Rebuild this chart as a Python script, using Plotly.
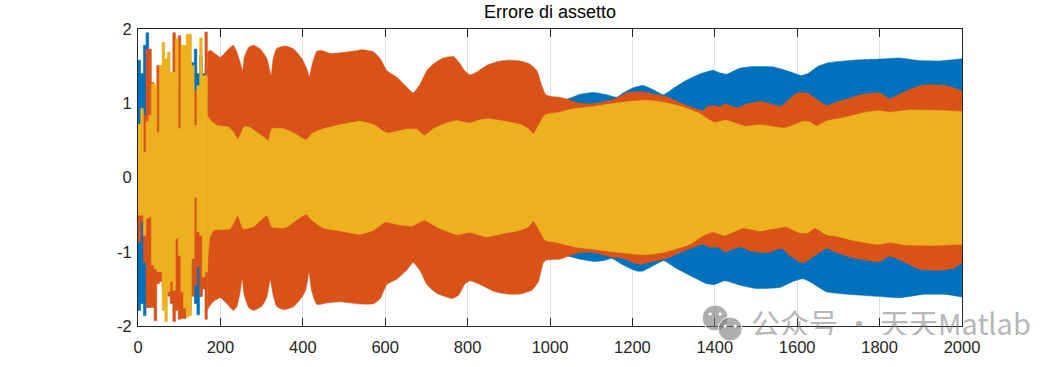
import plotly.graph_objects as go

TITLE = "Errore di assetto"
WATERMARK = "公众号 · 天天Matlab"
X_TICKS = [0, 200, 400, 600, 800, 1000, 1200, 1400, 1600, 1800, 2000]
Y_TICKS = [-2, -1, 0, 1, 2]
Y_LABELS = ["-2", "-1", "0", "1", "2"]
BLUE, ORANGE, YELLOW = "#0072BD", "#D95319", "#EDB120"

# Early, wildly oscillating stretch: step columns (left edge of each column)
early_x = [0, 6.5, 13, 19.5, 26, 32.5, 39, 45.5, 52, 58.5, 65, 71.5, 78, 84.5, 91, 97.5, 104, 110.5, 117, 123.5, 130, 136.5, 143, 149.5, 156, 162.5, 169]
early_blue_up = [1.58, 1.40, 1.78, 1.95, 1.2, 1.0, 1.0, 1.0, 1.1, 1.2, 1.2, 1.2, 1.2, 1.2, 1.1, 1.2, 1.2, 1.2, 1.2, 1.2, 1.55, 1.73, 1.4, 1.64, 1.4, 1.45, 1.45]
early_blue_lo = [-1.79, -1.70, -1.86, -1.75, -1.3, -1.2, -1.2, -1.2, -1.2, -1.3, -1.3, -1.3, -1.3, -1.3, -1.3, -1.3, -1.4, -1.4, -1.4, -1.4, -1.55, -1.7, -1.85, -1.6, -1.2, -1.3, -1.3]
early_orange_up = [0.25, 0.72, 0.84, 1.73, 1.73, 1.28, 1.15, 1.51, 1.3, 1.3, 1.2, 1.3, 1.4, 1.95, 1.0, 1.91, 1.75, 1.2, 1.2, 1.0, 0.9, 1.17, 1.1, 1.2, 1.3, 1.96, 1.96]
early_orange_lo = [-0.87, -0.6, -1.14, -1.75, -1.75, -1.75, -1.93, -1.43, -1.4, -1.5, -1.5, -1.6, -1.7, -1.94, -1.79, -1.91, -1.9, -1.9, -1.7, -1.78, -1.6, -1.45, -1.2, -1.6, -1.5, -1.91, -1.91]
early_yellow_up = [0.72, 0.93, 0.34, 0.75, 0.84, 1.26, 1.26, 0.61, 1.51, 1.82, 1.60, 1.69, 1.42, 1.42, 1.87, 0.66, 1.78, 1.78, 1.93, 1.93, 1.51, 0.70, 1.24, 1.88, 1.37, 1.37, 1.37]
early_yellow_lo = [-0.51, -0.51, -0.78, -0.55, -0.53, -1.18, -1.23, -1.27, -1.27, -1.79, -1.94, -1.54, -1.40, -1.52, -0.82, -1.05, -1.54, -1.76, -1.88, -1.86, -1.09, -0.27, -0.73, -0.78, -1.34, -1.27, -1.27]

# Later stretch: envelopes of the oscillation
orange_up_x = [168, 176, 200, 216, 231, 240, 248, 254, 258, 269, 281, 297, 313, 323, 328, 337, 358, 378, 398, 410, 416, 422, 434, 446, 467, 507, 547, 572, 588, 604, 628, 652, 668, 685, 701, 717, 741, 766, 782, 794, 806, 822, 846, 871, 899, 927, 951, 968, 980, 990, 1004, 1024, 1044, 1065, 1097, 1121, 1154, 1170, 1186, 1210, 1234, 1259, 1287, 1323, 1372, 1380, 1400, 1412, 1424, 1456, 1477, 1513, 1561, 1582, 1602, 1622, 1646, 1671, 1695, 1735, 1759, 1800, 1824, 1848, 1873, 1905, 1937, 1969, 2000]
orange_up = [1.69, 1.71, 1.62, 1.71, 1.78, 1.69, 1.55, 1.44, 1.62, 1.755, 1.78, 1.73, 1.60, 1.38, 1.60, 1.74, 1.77, 1.73, 1.60, 1.46, 1.36, 1.51, 1.70, 1.71, 1.67, 1.69, 1.72, 1.69, 1.60, 1.44, 1.35, 1.22, 1.14, 1.26, 1.44, 1.53, 1.61, 1.63, 1.53, 1.43, 1.38, 1.42, 1.51, 1.56, 1.58, 1.57, 1.53, 1.44, 1.24, 1.115, 1.09, 1.08, 1.05, 1.01, 0.99, 1.01, 1.05, 1.09, 1.14, 1.155, 1.146, 1.115, 1.08, 0.99, 0.90, 0.95, 0.97, 0.95, 0.99, 0.94, 0.99, 1.025, 0.96, 1.06, 1.14, 1.14, 1.06, 0.97, 1.015, 1.08, 1.12, 1.14, 1.06, 1.12, 1.185, 1.245, 1.25, 1.23, 1.16]
orange_lo_x = [168, 174, 184, 200, 216, 231, 240, 248, 253, 258, 269, 281, 301, 313, 321, 328, 337, 354, 378, 398, 408, 415, 422, 434, 459, 491, 539, 572, 588, 604, 628, 652, 668, 685, 701, 725, 762, 778, 794, 806, 826, 867, 895, 927, 956, 972, 984, 992, 1024, 1044, 1073, 1105, 1150, 1178, 1202, 1218, 1250, 1283, 1323, 1372, 1388, 1408, 1424, 1461, 1493, 1529, 1562, 1582, 1614, 1638, 1671, 1695, 1727, 1768, 1800, 1824, 1857, 1897, 1945, 1978, 2000]
orange_lo = [-1.79, -1.73, -1.665, -1.62, -1.70, -1.79, -1.74, -1.54, -1.36, -1.585, -1.755, -1.79, -1.73, -1.61, -1.38, -1.585, -1.74, -1.78, -1.74, -1.61, -1.50, -1.28, -1.54, -1.71, -1.69, -1.675, -1.705, -1.70, -1.63, -1.44, -1.37, -1.25, -1.145, -1.26, -1.44, -1.56, -1.63, -1.585, -1.43, -1.39, -1.43, -1.54, -1.57, -1.57, -1.52, -1.40, -1.145, -1.11, -1.10, -1.06, -1.01, -1.01, -1.07, -1.09, -1.145, -1.17, -1.13, -1.09, -0.995, -0.90, -0.94, -0.94, -1.0, -0.935, -1.0, -1.01, -0.955, -1.05, -1.15, -1.07, -0.955, -1.01, -1.07, -1.115, -1.135, -1.06, -1.13, -1.235, -1.25, -1.225, -1.15]

blue_up_x = [168, 668, 990, 1044, 1073, 1105, 1133, 1162, 1178, 1202, 1226, 1250, 1275, 1299, 1331, 1364, 1396, 1412, 1428, 1460, 1493, 1541, 1574, 1610, 1626, 1650, 1675, 1735, 1800, 1848, 1897, 1945, 2000]
blue_up = [1.1, 1.05, 1.0, 1.06, 1.12, 1.145, 1.12, 1.08, 1.14, 1.21, 1.24, 1.185, 1.115, 1.2, 1.31, 1.395, 1.445, 1.41, 1.39, 1.47, 1.495, 1.49, 1.44, 1.375, 1.40, 1.495, 1.545, 1.58, 1.595, 1.61, 1.575, 1.57, 1.60]
blue_lo_x = [168, 668, 990, 1044, 1073, 1105, 1129, 1150, 1178, 1210, 1226, 1250, 1276, 1307, 1347, 1380, 1400, 1424, 1461, 1501, 1558, 1590, 1614, 1634, 1671, 1727, 1792, 1848, 1905, 1961, 2000]
blue_lo = [-1.1, -1.05, -1.0, -1.06, -1.10, -1.13, -1.12, -1.09, -1.18, -1.26, -1.26, -1.19, -1.12, -1.225, -1.34, -1.43, -1.44, -1.39, -1.45, -1.495, -1.48, -1.40, -1.365, -1.415, -1.54, -1.575, -1.60, -1.62, -1.575, -1.575, -1.61]

yellow_up_x = [168, 176, 192, 220, 232, 242, 248, 257, 269, 289, 305, 316, 325, 354, 378, 408, 422, 450, 491, 539, 572, 604, 652, 677, 695, 717, 750, 774, 806, 826, 850, 887, 927, 947, 960, 972, 988, 1024, 1056, 1105, 1154, 1202, 1234, 1275, 1323, 1364, 1388, 1400, 1412, 1428, 1473, 1509, 1570, 1614, 1630, 1646, 1671, 1711, 1759, 1796, 1824, 1873, 1929, 2000]
yellow_up = [0.835, 0.77, 0.70, 0.68, 0.61, 0.515, 0.57, 0.68, 0.68, 0.61, 0.545, 0.495, 0.657, 0.657, 0.60, 0.505, 0.59, 0.657, 0.71, 0.756, 0.71, 0.60, 0.65, 0.65, 0.567, 0.657, 0.738, 0.765, 0.733, 0.77, 0.79, 0.76, 0.716, 0.657, 0.59, 0.70, 0.845, 0.88, 0.925, 0.957, 0.998, 1.03, 1.04, 1.015, 0.95, 0.86, 0.77, 0.74, 0.755, 0.77, 0.69, 0.71, 0.666, 0.755, 0.75, 0.69, 0.76, 0.805, 0.87, 0.90, 0.88, 0.91, 0.905, 0.89]
yellow_lo_x = [168, 174, 184, 224, 242, 255, 281, 313, 325, 358, 378, 408, 422, 450, 491, 539, 572, 600, 628, 665, 695, 725, 774, 806, 846, 887, 927, 947, 960, 972, 988, 1016, 1065, 1105, 1154, 1202, 1234, 1283, 1339, 1372, 1396, 1424, 1469, 1509, 1574, 1606, 1626, 1642, 1671, 1695, 1743, 1796, 1824, 1865, 1921, 2000]
yellow_lo = [-1.27, -0.82, -0.71, -0.69, -0.51, -0.69, -0.66, -0.51, -0.665, -0.675, -0.60, -0.495, -0.575, -0.68, -0.72, -0.765, -0.71, -0.60, -0.63, -0.655, -0.575, -0.665, -0.77, -0.74, -0.80, -0.755, -0.71, -0.665, -0.59, -0.69, -0.845, -0.875, -0.94, -0.965, -1.0, -1.03, -1.04, -1.0, -0.90, -0.78, -0.735, -0.78, -0.68, -0.72, -0.665, -0.745, -0.745, -0.68, -0.77, -0.79, -0.855, -0.90, -0.875, -0.91, -0.915, -0.90]

W, H = 1063, 367
L, R, T, B = 137.5, 962.0, 28.5, 326.0


def px(x):
    return (x - L) / (R - L)


def py(y):
    return (B - y) / (B - T)


def band(fig, x_lo, lo, x_up, up, color, line):
    fig.add_trace(go.Scatter(x=x_lo, y=lo, mode="lines", line=dict(color=color, width=0.5, **line), showlegend=False, hoverinfo="skip"))
    fig.add_trace(go.Scatter(x=x_up, y=up, mode="lines", fill="tonexty", fillcolor=color, line=dict(color=color, width=0.5, **line), showlegend=False, hoverinfo="skip"))


fig = go.Figure()
for x_lo, lo, x_up, up, e_up, e_lo, color in [
    (blue_lo_x, blue_lo, blue_up_x, blue_up, early_blue_up, early_blue_lo, BLUE),
    (orange_lo_x, orange_lo, orange_up_x, orange_up, early_orange_up, early_orange_lo, ORANGE),
    (yellow_lo_x, yellow_lo, yellow_up_x, yellow_up, early_yellow_up, early_yellow_lo, YELLOW),
]:
    band(fig, early_x, e_lo, early_x, e_up, color, dict(shape="hv"))
    band(fig, x_lo, lo, x_up, up, color, dict(shape="spline", smoothing=0.45))

axis = dict(showline=True, linecolor="#262626", linewidth=1, mirror="ticks", ticks="inside", ticklen=8,
            tickcolor="#262626", tickwidth=1, showgrid=True, gridcolor="#dfdfdf", gridwidth=1, zeroline=False,
            layer="below traces", tickfont=dict(family="Liberation Sans", size=16.5, color="#262626"))

# WeChat-style watermark badge (decoration)
badge = []
for cx, cy, r in [(715, 318, 13), (730, 329, 12)]:
    badge.append(dict(type="circle", xref="paper", yref="paper", x0=px(cx - r), x1=px(cx + r), y0=py(cy + r), y1=py(cy - r),
                      fillcolor="rgba(120,120,120,0.6)", line=dict(color="white", width=1), layer="above"))
for cx, cy in [(710, 314), (720, 314), (725, 326), (735, 326)]:
    badge.append(dict(type="circle", xref="paper", yref="paper", x0=px(cx - 1.6), x1=px(cx + 1.6), y0=py(cy + 1.6), y1=py(cy - 1.6),
                      fillcolor="white", line=dict(width=0), layer="above"))

fig.update_layout(
    width=W, height=H, autosize=False,
    margin=dict(l=L, r=W - R, t=T, b=H - B, pad=0),
    paper_bgcolor="white", plot_bgcolor="white", showlegend=False,
    xaxis=dict(axis, range=[0, 2000], tickvals=X_TICKS, ticklabelstandoff=6),
    yaxis=dict(axis, range=[-2, 2], tickvals=Y_TICKS, ticktext=Y_LABELS, ticklabelstandoff=2),
    shapes=badge,
    annotations=[
        dict(text=TITLE, xref="paper", yref="paper", x=0.5, y=py(23), xanchor="center", yanchor="bottom", showarrow=False,
             font=dict(family="Liberation Sans", size=18, color="#000000")),
        dict(text=WATERMARK, xref="paper", yref="paper", x=px(749), y=py(322), xanchor="left", yanchor="middle", showarrow=False,
             height=26, font=dict(family="Noto Sans CJK SC", size=29, color="rgba(120,120,120,0.55)")),
    ],
)
fig.write_html("out.html", config={"displayModeBar": False}, post_script="document.body.style.margin='0';")
